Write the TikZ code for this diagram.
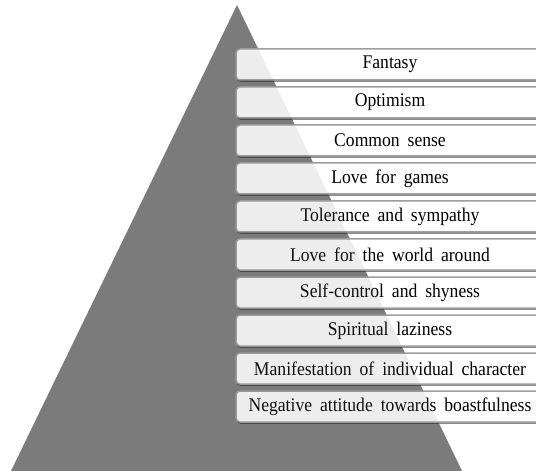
\documentclass[tikz,border=0pt]{standalone}
\usepackage{fontspec}
\setmainfont{Liberation Serif}[WordSpace={1.8}]
\usetikzlibrary{shadows}
\definecolor{trigray}{RGB}{123,123,123}
\definecolor{edgegray}{RGB}{158,158,158}
\newcommand{\lbl}[1]{\scalebox{1}[1.1]{#1}}
\begin{document}
\begin{tikzpicture}[x=1bp,y=-1bp,
  tri/.style={fill=trigray},
  box/.style={draw=edgegray, line width=1.5bp, rounded corners=4bp,
    fill=white,
    minimum width=308bp, minimum height=31bp, inner sep=0pt,
    font=\fontsize{17.6bp}{20bp}\selectfont,
    drop shadow={shadow xshift=0.5bp, shadow yshift=-1.8bp, fill=black, opacity=0.45}}]
\useasboundingbox (0,0) rectangle (536,471);
\fill[tri] (237,5) -- (11,471) -- (462,471) -- cycle;
\node[box] (b0) at (390,64.5) {\lbl{Fantasy}};
\node[box] (b1) at (390,102.5) {\lbl{Optimism}};
\node[box] (b2) at (390,140.5) {\lbl{Common sense}};
\node[box] (b3) at (390,178.5) {\lbl{Love for games}};
\node[box] (b4) at (390,216.5) {\lbl{Tolerance and sympathy}};
\node[box] (b5) at (390,254.5) {\lbl{Love for the world around}};
\node[box] (b6) at (390,292.5) {\lbl{Self-control and shyness}};
\node[box] (b7) at (390,330.5) {\lbl{Spiritual laziness}};
\node[box] (b8) at (390,368.5) {\lbl{Manifestation of individual character}};
\node[box] (b9) at (390,406.5) {\lbl{Negative attitude towards boastfulness}};
\fill[tri, fill opacity=0.13] (237,5) -- (11,471) -- (462,471) -- cycle;
\end{tikzpicture}
\end{document}
